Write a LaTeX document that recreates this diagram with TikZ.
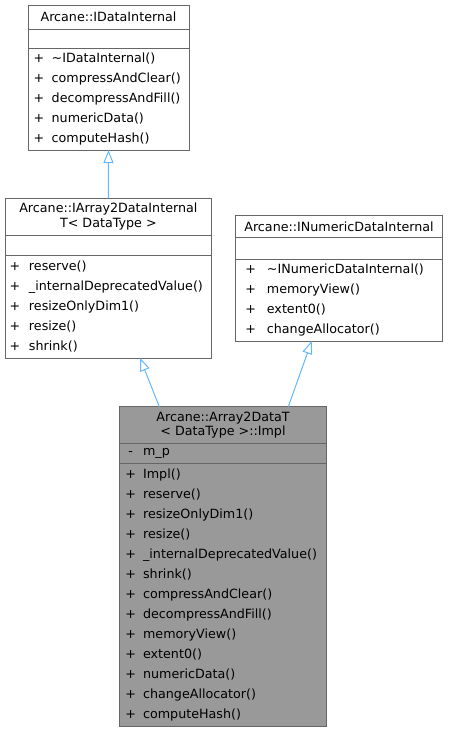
\documentclass[tikz,border=0pt]{standalone}
\usepackage{fontspec}
\setmainfont{DejaVu Sans}
\usetikzlibrary{arrows.meta}
\definecolor{edgeblue}{HTML}{63B8FF}
\definecolor{boxgray}{HTML}{666666}
\definecolor{implgray}{HTML}{999999}
\newcommand{\vis}[3][7.5pt]{\makebox[10.6pt]{#2}\hspace{#1}#3}
\begin{document}
\begin{tikzpicture}[x=1pt, y=-1pt]
 \tikzset{part/.style={draw=boxgray, line width=1pt, fill=white, anchor=north west, inner sep=0pt, outer sep=0pt}}
 \tikzset{titlebox/.style={part, align=center, font=\fontsize{12.7}{14.5}\selectfont}}
 \tikzset{memberbox/.style={part, align=left, font=\fontsize{12.7}{20}\selectfont}}
 \tikzset{inherit/.style={draw=edgeblue, line width=1pt, -{Triangle[open, length=13pt, width=10pt]}}}
  \useasboundingbox (0,0) rectangle (448,732);
  % Arcane::IDataInternal
  \node[titlebox, minimum width=161pt, minimum height=24pt] (IDIt) at (28,5) {Arcane::IDataInternal};
  \node[part, minimum width=161pt, minimum height=19pt] (IDIa) at (28,29) {};
  \node[memberbox, minimum width=161pt, minimum height=102pt, text width=149.8pt, inner xsep=5.6pt] (IDIm) at (28,48)
    {\vis{+}{\textasciitilde IDataInternal()}\\ \vis{+}{compressAndClear()}\\ \vis{+}{decompressAndFill()}\\
     \vis{+}{numericData()}\\ \vis{+}{computeHash()}};
  % Arcane::IArray2DataInternalT
  \node[titlebox, minimum width=206.7pt, minimum height=36.7pt] (IA2t) at (5,198.3) {Arcane::IArray2DataInternal\\T< DataType >};
  \node[part, minimum width=206.7pt, minimum height=20.7pt] (IA2a) at (5,235) {};
  \node[memberbox, minimum width=206.7pt, minimum height=102.3pt, text width=197.5pt, inner xsep=4.6pt] (IA2m) at (5,255.7)
    {\vis[8.8pt]{+}{reserve()}\\ \vis[8.8pt]{+}{\_internalDeprecatedValue()}\\ \vis[8.8pt]{+}{resizeOnlyDim1()}\\
     \vis[8.8pt]{+}{resize()}\\ \vis[8.8pt]{+}{shrink()}};
  % Arcane::INumericDataInternal
  \node[titlebox, minimum width=206.6pt, minimum height=22pt] (INDt) at (235.7,215.7) {Arcane::INumericDataInternal};
  \node[part, minimum width=206.6pt, minimum height=21.3pt] (INDa) at (235.7,237.7) {};
  \node[memberbox, minimum width=206.6pt, minimum height=82pt, text width=187.4pt, inner xsep=9.6pt] (INDm) at (235.7,259)
    {\vis[11pt]{+}{\textasciitilde INumericDataInternal()}\\ \vis[11pt]{+}{memoryView()}\\ \vis[11pt]{+}{extent0()}\\
     \vis[11pt]{+}{changeAllocator()}};
  % Arcane::Array2DataT< DataType >::Impl
  \node[titlebox, fill=implgray, minimum width=207.4pt, minimum height=36.6pt] (Implt) at (119.3,406.7) {Arcane::Array2DataT\\< DataType >::Impl};
  \node[memberbox, fill=implgray, minimum width=207.4pt, minimum height=20pt, text width=195.4pt, inner xsep=6pt] (Impla) at (119.3,443.3)
    {\vis[7.2pt]{-}{m\_p}};
  \node[memberbox, fill=implgray, minimum width=207.4pt, minimum height=263.4pt, text width=195.4pt, inner xsep=6pt] (Implm) at (119.3,463.3)
    {\vis[7.2pt]{+}{Impl()}\\ \vis[7.2pt]{+}{reserve()}\\ \vis[7.2pt]{+}{resizeOnlyDim1()}\\ \vis[7.2pt]{+}{resize()}\\
     \vis[7.2pt]{+}{\_internalDeprecatedValue()}\\ \vis[7.2pt]{+}{shrink()}\\ \vis[7.2pt]{+}{compressAndClear()}\\
     \vis[7.2pt]{+}{decompressAndFill()}\\ \vis[7.2pt]{+}{memoryView()}\\ \vis[7.2pt]{+}{extent0()}\\
     \vis[7.2pt]{+}{numericData()}\\ \vis[7.2pt]{+}{changeAllocator()}\\ \vis[7.2pt]{+}{computeHash()}};
  % inheritance
  \draw[inherit] (IA2t.north) -- (IDIm.south);
  \draw[inherit] ([xshift=-63.7pt]Implt.north) -- ([xshift=31.7pt]IA2m.south);
  \draw[inherit] ([xshift=65.3pt]Implt.north) -- ([xshift=-27.3pt]INDm.south);
\end{tikzpicture}
\end{document}
